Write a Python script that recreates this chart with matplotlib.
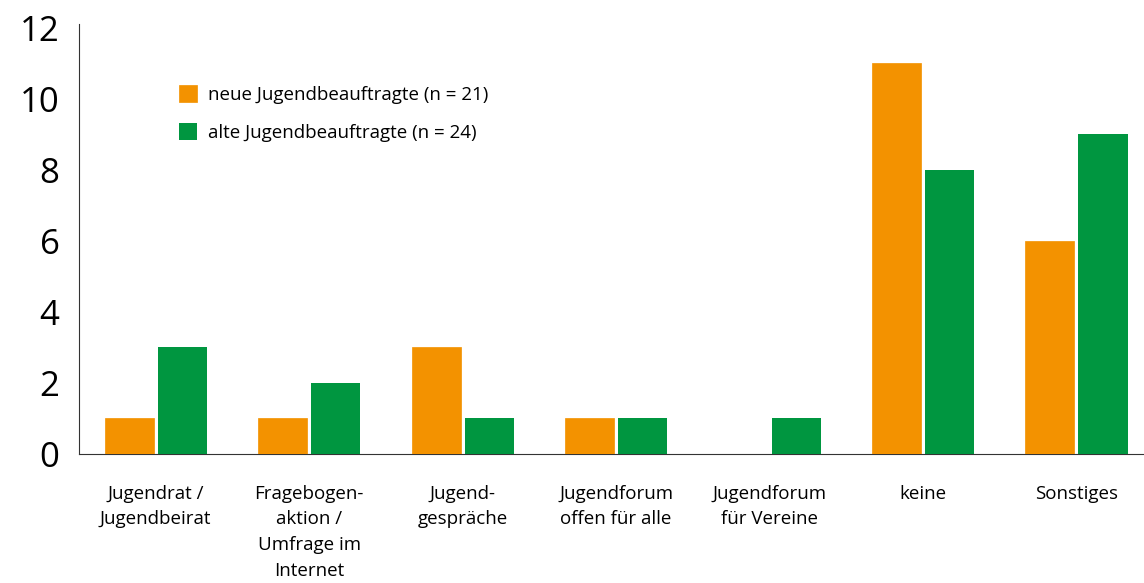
import matplotlib.pyplot as plt
import numpy as np

categories = ['Jugendrat /\nJugendbeirat', 'Fragebogen-\naktion /\nUmfrage im\nInternet',
              'Jugend-\ngespräche', 'Jugendforum\noffen für alle', 'Jugendforum\nfür Vereine',
              'keine', 'Sonstiges']
neue = [1, 1, 3, 1, 0, 11, 6]
alte = [3, 2, 1, 1, 1, 8, 9]
series_labels = ['neue Jugendbeauftragte (n = 21)', 'alte Jugendbeauftragte (n = 24)']

plt.rcParams['font.family'] = ['Open Sans', 'DejaVu Sans']

fig = plt.figure(figsize=(11.44, 5.83), dpi=100)
ax = fig.add_axes([79/1144, 1-454/583, 1-79/1144, 430/583])

x = np.arange(len(categories))
w = 0.32
ax.bar(x - 0.173, neue, w, color='#f39200', edgecolor='#f39200', linewidth=0.5,
       zorder=3, label=series_labels[0])
ax.bar(x + 0.173, alte, w, color='#009640', zorder=3, label=series_labels[1])

ax.set_xlim(-0.5, 6.44)
ax.set_ylim(0, 12.1)
ax.set_yticks(range(0, 13, 2))
ax.set_xticks(x)
ax.set_xticklabels(categories, fontsize=13.5, linespacing=1.55)
ax.tick_params(axis='y', length=0, labelsize=25, pad=14)
ax.tick_params(axis='x', length=0, pad=22)
for s in ['top', 'right']:
    ax.spines[s].set_visible(False)
ax.spines['left'].set_color('#333333')
ax.spines['bottom'].set_color('#333333')

fig.legend(loc='upper left', bbox_to_anchor=(162/1144, 1-68/583), frameon=False,
           fontsize=13.5, handlelength=0.95, handleheight=1.05, handletextpad=0.6,
           labelspacing=1.0)

fig.savefig('out.png', dpi=100)
